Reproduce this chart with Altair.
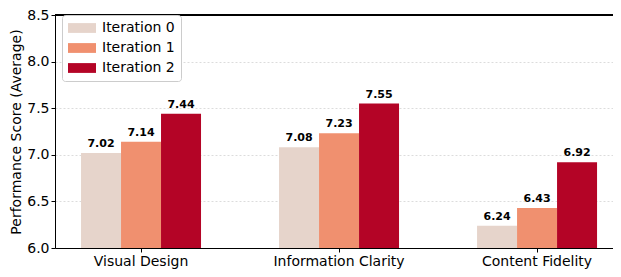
import altair as alt
import pandas as pd

categories = ["Visual Design", "Information Clarity", "Content Fidelity"]
iterations = ["Iteration 0", "Iteration 1", "Iteration 2"]
iter0 = [7.02, 7.08, 6.24]
iter1 = [7.14, 7.23, 6.43]
iter2 = [7.44, 7.55, 6.92]
colors = ["#e6d4cb", "#f0906f", "#b40426"]

rows = []
for it, vals in zip(iterations, [iter0, iter1, iter2]):
    for c, v in zip(categories, vals):
        rows.append({"Category": c, "Iteration": it, "Score": v})
df = pd.DataFrame(rows)

W, H = 558, 233
FONT = "DejaVu Sans"
NB = "\u00a0"

x = alt.X("Category:N", sort=categories, title=None,
          scale=alt.Scale(paddingInner=0.394, paddingOuter=0.106, align=0.62),
          axis=alt.Axis(labelAngle=0, labelFontSize=14, labelColor="black",
                        labelFont=FONT, tickSize=4, tickColor="black",
                        domainColor="black", labelPadding=2, grid=False))
xo = alt.XOffset("Iteration:N", sort=iterations,
                 scale=alt.Scale(paddingInner=0, paddingOuter=0))
y = alt.Y("Score:Q", title="Performance Score (Average)",
          scale=alt.Scale(domain=[6.0, 8.5], zero=False, nice=False),
          axis=alt.Axis(values=[6.0, 6.5, 7.0, 7.5, 8.0, 8.5], format=".1f",
                        labelFontSize=14, labelColor="black", labelFont=FONT,
                        tickSize=4, tickColor="black", domainColor="black",
                        labelPadding=2,
                        titleFont=FONT, titleFontSize=14, titleFontWeight="normal",
                        titleColor="black", titleX=-35, titleY=H / 2,
                        titleAngle=270, titleAlign="center",
                        titleBaseline="alphabetic",
                        grid=True, gridColor="#dcdcdc", gridDash=[2, 2]))

color = alt.Color("Iteration:N", sort=iterations,
                  scale=alt.Scale(domain=iterations, range=colors),
                  legend=alt.Legend(title=None, orient="none", legendX=7, legendY=0,
                                    labelFontSize=14, labelColor="black",
                                    labelFont=FONT,
                                    labelExpr="datum.label + '" + NB + NB + "'",
                                    symbolType="M-2,-0.7H2V0.7H-2Z",
                                    symbolSize=196, symbolStrokeWidth=0,
                                    symbolOpacity=1, symbolOffset=7,
                                    rowPadding=6, labelOffset=13,
                                    padding=6, strokeColor="#cccccc",
                                    fillColor="white", cornerRadius=3))

bars = alt.Chart(df).mark_bar(size=40).encode(
    x=x, xOffset=xo, y=y, y2=alt.datum(6.0), color=color
)

labels = alt.Chart(df).mark_text(
    baseline="alphabetic", dy=-6, fontWeight="bold", fontSize=11, color="black", font=FONT
).encode(
    x=alt.X("Category:N", sort=categories),
    xOffset=alt.XOffset("Iteration:N", sort=iterations),
    y=alt.Y("Score:Q"),
    text=alt.Text("Score:Q", format=".2f"),
)

top = alt.Chart(df).mark_rule(color="black", strokeWidth=1).encode(
    x=alt.value(0), x2=alt.value(W), y=alt.value(0)
)

chart = alt.layer(bars, labels, top).properties(
    width=W, height=H,
    autosize=alt.AutoSizeParams(type="none"),
    padding={"left": 47, "top": 7, "right": 0, "bottom": 21},
).configure(font=FONT).configure_view(stroke=None)

chart.save("out.html", embed_options={"renderer": "svg", "actions": False})
